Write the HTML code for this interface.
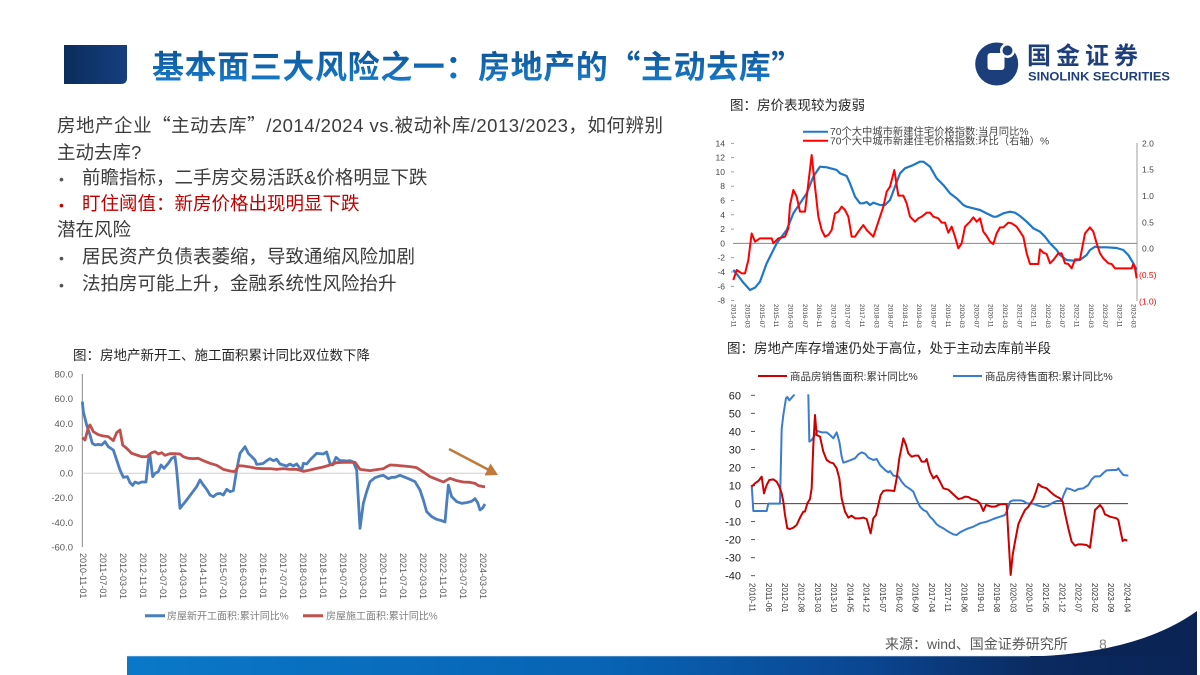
<!DOCTYPE html>
<html><head><meta charset="utf-8">
<style>
html,body{margin:0;padding:0;background:#fff;}
body{width:1200px;height:675px;overflow:hidden;position:relative;}
svg{position:absolute;left:0;top:0;}
</style></head>
<body>
<svg width="1200" height="675" viewBox="0 0 1200 675" xmlns="http://www.w3.org/2000/svg" font-family="'Liberation Sans','Noto Sans CJK SC',sans-serif">
<defs>
<linearGradient id="tg" x1="0" y1="0" x2="0" y2="1">
<stop offset="0" stop-color="#0a4a8c"/><stop offset="1" stop-color="#1a82d2"/>
</linearGradient>
<linearGradient id="sq" x1="0" y1="0" x2="1" y2="0">
<stop offset="0" stop-color="#0b2d5e"/><stop offset="1" stop-color="#163f7f"/>
</linearGradient>
<linearGradient id="bar" x1="0" y1="0" x2="1" y2="0">
<stop offset="0" stop-color="#0a78c8"/><stop offset="0.45" stop-color="#0863b4"/><stop offset="0.7" stop-color="#0a4590"/><stop offset="0.85" stop-color="#0b2a60"/><stop offset="1" stop-color="#0a2456"/>
</linearGradient>
<clipPath id="brclip"><rect x="100" y="178" width="1300" height="600"/></clipPath>
</defs>

<!-- header -->
<path d="M64 45 H127 V78 Q127 84 121 84 H64 Z" fill="url(#sq)"/>
<text x="152" y="78" font-size="32" font-weight="bold" fill="url(#tg)" letter-spacing="0.6" font-family="'Noto Sans CJK SC',sans-serif">基本面三大风险之一：房地产的“主动去库”</text>

<!-- logo -->
<circle cx="996.7" cy="64" r="21.5" fill="#1c3f7c"/>
<rect x="987.5" y="53" width="17" height="17" rx="3" fill="#fff"/>
<circle cx="1007.5" cy="50.5" r="7.5" fill="#fff"/>
<circle cx="1007.5" cy="50.5" r="5" fill="#1c3f7c"/>
<text x="1027" y="64" font-size="24" font-weight="bold" fill="#1f3f7c" letter-spacing="5" font-family="'Noto Sans CJK SC',sans-serif">国金证券</text>
<text x="1028" y="80.5" font-size="11.5" font-weight="bold" fill="#1f3f7c" textLength="142" lengthAdjust="spacingAndGlyphs">SINOLINK SECURITIES</text>

<!-- body text -->
<g font-size="18.5" fill="#3c3c3c">
<text x="57" y="132" textLength="606" lengthAdjust="spacing">房地产企业<tspan font-family="'Noto Sans CJK SC',sans-serif">“</tspan>主动去库<tspan font-family="'Noto Sans CJK SC',sans-serif">”</tspan>/2014/2024 vs.被动补库/2013/2023，如何辨别</text>
<text x="57" y="159">主动去库?</text>
<text x="59" y="184" font-size="14" fill="#555">•</text>
<text x="82" y="184">前瞻指标，二手房交易活跃&amp;价格明显下跌</text>
<text x="59" y="210" font-size="14" fill="#c00000">•</text>
<text x="82" y="210" fill="#c00000">盯住阈值：新房价格出现明显下跌</text>
<text x="57" y="236">潜在风险</text>
<text x="59" y="263" font-size="14" fill="#555">•</text>
<text x="82" y="263">居民资产负债表萎缩，导致通缩风险加剧</text>
<text x="59" y="290" font-size="14" fill="#555">•</text>
<text x="82" y="290">法拍房可能上升，金融系统性风险抬升</text>
</g>

<!-- ===== Top-right chart ===== -->
<text x="730" y="110" font-size="13.5" fill="#262626">图：房价表现较为疲弱</text>
<line x1="803" y1="131.7" x2="828" y2="131.7" stroke="#1f77c8" stroke-width="2"/>
<text x="830" y="135" font-size="10.3" fill="#444">70个大中城市新建住宅价格指数:当月同比%</text>
<line x1="803" y1="140.7" x2="828" y2="140.7" stroke="#ff0000" stroke-width="2"/>
<text x="830" y="144.5" font-size="10.3" fill="#444">70个大中城市新建住宅价格指数:环比（右轴）%</text>
<g font-size="8.5" fill="#444" text-anchor="end">
<text x="725" y="146.3">14</text><text x="725" y="160.6">12</text><text x="725" y="174.9">10</text><text x="725" y="189.2">8</text><text x="725" y="203.5">6</text><text x="725" y="217.8">4</text><text x="725" y="232.1">2</text><text x="725" y="246.4">0</text><text x="725" y="260.7">-2</text><text x="725" y="275">-4</text><text x="725" y="289.3">-6</text><text x="725" y="303.6">-8</text>
</g>
<g stroke="#888" stroke-width="0.8">
<line x1="731" y1="143.3" x2="734" y2="143.3"/><line x1="731" y1="157.6" x2="734" y2="157.6"/><line x1="731" y1="171.9" x2="734" y2="171.9"/><line x1="731" y1="186.2" x2="734" y2="186.2"/><line x1="731" y1="200.5" x2="734" y2="200.5"/><line x1="731" y1="214.8" x2="734" y2="214.8"/><line x1="731" y1="229.1" x2="734" y2="229.1"/><line x1="731" y1="257.7" x2="734" y2="257.7"/><line x1="731" y1="272" x2="734" y2="272"/><line x1="731" y1="286.3" x2="734" y2="286.3"/><line x1="731" y1="300.6" x2="734" y2="300.6"/>
</g>
<line x1="733" y1="243.3" x2="1137" y2="243.3" stroke="#777" stroke-width="0.8"/>
<line x1="1137" y1="143" x2="1137" y2="301" stroke="#888" stroke-width="0.8"/>
<g font-size="8.5" fill="#444">
<text x="1142" y="146.3">2.0</text><text x="1142" y="172.7">1.5</text><text x="1142" y="199">1.0</text><text x="1142" y="225.3">0.5</text><text x="1142" y="251.7">0.0</text>
<text x="1139" y="278" fill="#ff0000">(0.5)</text><text x="1139" y="304.3" fill="#ff0000">(1.0)</text>
</g>
<g font-size="6.5" fill="#444" dominant-baseline="middle">
<text transform="translate(733,304) rotate(90)">2014-11</text>
<text transform="translate(747.3,304) rotate(90)">2015-03</text>
<text transform="translate(761.6,304) rotate(90)">2015-07</text>
<text transform="translate(775.9,304) rotate(90)">2015-11</text>
<text transform="translate(790.2,304) rotate(90)">2016-03</text>
<text transform="translate(804.5,304) rotate(90)">2016-07</text>
<text transform="translate(818.8,304) rotate(90)">2016-11</text>
<text transform="translate(833.1,304) rotate(90)">2017-03</text>
<text transform="translate(847.4,304) rotate(90)">2017-07</text>
<text transform="translate(861.7,304) rotate(90)">2017-11</text>
<text transform="translate(876,304) rotate(90)">2018-03</text>
<text transform="translate(890.3,304) rotate(90)">2018-07</text>
<text transform="translate(904.6,304) rotate(90)">2018-11</text>
<text transform="translate(918.9,304) rotate(90)">2019-03</text>
<text transform="translate(933.2,304) rotate(90)">2019-07</text>
<text transform="translate(947.5,304) rotate(90)">2019-11</text>
<text transform="translate(961.8,304) rotate(90)">2020-03</text>
<text transform="translate(976.1,304) rotate(90)">2020-07</text>
<text transform="translate(990.4,304) rotate(90)">2020-11</text>
<text transform="translate(1004.7,304) rotate(90)">2021-03</text>
<text transform="translate(1019,304) rotate(90)">2021-07</text>
<text transform="translate(1033.3,304) rotate(90)">2021-11</text>
<text transform="translate(1047.6,304) rotate(90)">2022-03</text>
<text transform="translate(1061.9,304) rotate(90)">2022-07</text>
<text transform="translate(1076.2,304) rotate(90)">2022-11</text>
<text transform="translate(1090.5,304) rotate(90)">2023-03</text>
<text transform="translate(1104.8,304) rotate(90)">2023-07</text>
<text transform="translate(1119.1,304) rotate(90)">2023-11</text>
<text transform="translate(1133.4,304) rotate(90)">2024-03</text>
</g>
<g transform="translate(700,90) scale(0.33333)" fill="none" stroke-linejoin="round">
<polyline vector-effect="non-scaling-stroke" stroke="#1f77c8" stroke-width="2.2" points="100,540 115,558 130,578 150,600 165,593 180,575 200,520 230,460 260,420 280,370 300,340 320,310 340,260 360,230 380,232 410,240 420,250 440,258 450,280 465,320 480,340 490,340 500,336 510,345 520,338 540,345 555,345 570,330 585,290 600,250 615,235 640,225 660,215 670,215 690,230 710,265 730,285 750,310 770,325 790,345 800,350 820,355 840,360 860,370 880,380 890,380 910,370 930,365 945,368 960,378 980,395 1000,415 1020,425 1035,440 1050,460 1070,480 1080,495 1100,510 1120,512 1140,510 1160,495 1170,480 1185,470 1200,472 1220,472 1250,474 1270,480 1285,495 1300,520 1310,540"/>
<polyline vector-effect="non-scaling-stroke" stroke="#ff0000" stroke-width="2" points="100,570 110,540 125,550 135,550 145,510 155,430 165,455 180,445 200,445 215,445 220,460 235,445 255,440 265,415 270,345 280,300 290,320 300,365 315,365 325,280 335,195 345,290 355,380 365,420 375,440 385,435 395,420 405,370 415,365 425,350 435,360 445,380 455,440 465,440 475,425 490,405 500,420 510,430 520,440 530,410 540,380 550,350 560,305 570,290 583,240 595,317 610,317 620,340 630,380 645,395 655,385 665,380 680,368 690,368 700,380 715,385 725,398 735,398 745,428 755,410 765,440 775,475 785,460 795,410 810,395 820,382 830,395 840,385 850,425 860,438 870,455 880,462 890,430 900,412 910,412 925,398 935,400 950,410 960,425 970,440 980,490 990,522 1000,522 1015,522 1020,478 1030,488 1040,492 1050,520 1060,510 1075,490 1085,490 1095,520 1105,522 1115,535 1125,508 1140,508 1155,430 1170,412 1180,425 1190,460 1200,490 1210,505 1225,520 1235,522 1245,535 1260,535 1280,535 1295,535 1300,522 1305,535 1310,565"/>
</g>

<!-- ===== Left chart ===== -->
<text x="73" y="360" font-size="13.5" fill="#262626">图：房地产新开工、施工面积累计同比双位数下降</text>
<g font-size="9.5" fill="#595959" text-anchor="end">
<text x="73" y="377.5">80.0</text><text x="73" y="402.2">60.0</text><text x="73" y="426.9">40.0</text><text x="73" y="451.6">20.0</text><text x="73" y="476.5">0.0</text><text x="73" y="501.2">-20.0</text><text x="73" y="525.9">-40.0</text><text x="73" y="550.6">-60.0</text>
</g>
<line x1="82.3" y1="374" x2="82.3" y2="547" stroke="#888" stroke-width="1"/>
<line x1="82.3" y1="473.3" x2="487" y2="473.3" stroke="#d0d0d0" stroke-width="1"/>
<g font-size="9" fill="#595959" dominant-baseline="middle">
<text transform="translate(82.3,553) rotate(90)">2010-11-01</text>
<text transform="translate(102.3,553) rotate(90)">2011-07-01</text>
<text transform="translate(122.3,553) rotate(90)">2012-03-01</text>
<text transform="translate(142.3,553) rotate(90)">2012-11-01</text>
<text transform="translate(162.3,553) rotate(90)">2013-07-01</text>
<text transform="translate(182.3,553) rotate(90)">2014-03-01</text>
<text transform="translate(202.3,553) rotate(90)">2014-11-01</text>
<text transform="translate(222.3,553) rotate(90)">2015-07-01</text>
<text transform="translate(242.3,553) rotate(90)">2016-03-01</text>
<text transform="translate(262.3,553) rotate(90)">2016-11-01</text>
<text transform="translate(282.3,553) rotate(90)">2017-07-01</text>
<text transform="translate(302.3,553) rotate(90)">2018-03-01</text>
<text transform="translate(322.3,553) rotate(90)">2018-11-01</text>
<text transform="translate(342.3,553) rotate(90)">2019-07-01</text>
<text transform="translate(362.3,553) rotate(90)">2020-03-01</text>
<text transform="translate(382.3,553) rotate(90)">2020-11-01</text>
<text transform="translate(402.3,553) rotate(90)">2021-07-01</text>
<text transform="translate(422.3,553) rotate(90)">2022-03-01</text>
<text transform="translate(442.3,553) rotate(90)">2022-11-01</text>
<text transform="translate(462.3,553) rotate(90)">2023-07-01</text>
<text transform="translate(482.3,553) rotate(90)">2024-03-01</text>
</g>
<g transform="translate(50,340) scale(0.33333)" fill="none" stroke-linejoin="round">
<polyline vector-effect="non-scaling-stroke" stroke="#4a7ebf" stroke-width="2.8" points="97,185 100,215 110,255 120,285 127,310 135,315 145,313 155,315 165,305 175,320 190,330 200,360 210,390 220,412 232,410 240,428 248,436 255,426 265,430 275,426 288,426 295,360 300,346 308,410 315,400 325,395 333,375 342,385 355,370 365,355 375,350 380,390 390,505 398,495 410,480 425,460 440,440 450,420 460,435 470,448 480,465 490,470 500,462 510,460 520,465 530,448 540,455 550,452 560,390 570,340 585,320 595,340 605,350 615,360 620,373 630,372 640,370 650,362 660,356 670,362 680,358 690,372 700,375 710,378 720,372 730,378 740,372 750,385 755,392 760,370 770,372 780,360 790,350 800,340 820,342 830,336 840,370 848,375 858,352 870,362 880,362 890,363 900,362 910,366 920,390 930,565 940,490 950,455 960,425 975,413 990,408 1000,406 1015,416 1025,412 1035,412 1050,406 1065,412 1080,418 1095,425 1110,450 1120,480 1130,515 1145,530 1160,538 1175,542 1185,546 1195,435 1205,470 1220,485 1235,490 1250,488 1265,484 1275,476 1283,488 1290,510 1298,504 1305,492"/>
<polyline vector-effect="non-scaling-stroke" stroke="#c0504d" stroke-width="2.8" points="97,293 105,300 115,262 120,255 130,275 145,284 160,288 175,290 190,302 200,278 210,270 218,315 230,325 245,340 260,345 275,350 290,350 305,338 315,335 325,342 335,338 345,346 360,341 375,341 390,342 400,350 415,355 430,356 445,355 460,362 480,370 500,376 520,388 540,393 555,395 565,377 580,378 600,381 620,385 640,386 660,386 680,388 700,386 720,388 740,388 760,394 780,390 800,385 820,381 840,375 860,368 880,367 900,367 915,367 930,388 945,390 960,392 980,389 1000,386 1010,380 1020,375 1040,376 1060,378 1080,380 1100,383 1120,396 1140,410 1160,418 1180,426 1200,415 1220,422 1240,426 1260,427 1275,430 1285,437 1300,440 1305,440"/>
</g>
<line x1="449" y1="449" x2="488" y2="469.5" stroke="#c07a3c" stroke-width="2.5"/>
<polygon points="498,475 484.5,475.5 490.5,463.5" fill="#c07a3c"/>
<line x1="145" y1="615.7" x2="165" y2="615.7" stroke="#4a7ebf" stroke-width="3"/>
<text x="167" y="619.5" font-size="10" fill="#7f7f7f">房屋新开工面积:累计同比%</text>
<line x1="303" y1="615.7" x2="323" y2="615.7" stroke="#c0504d" stroke-width="3"/>
<text x="326" y="619.5" font-size="10" fill="#7f7f7f">房屋施工面积:累计同比%</text>

<!-- ===== Bottom-right chart ===== -->
<text x="727" y="353" font-size="13.5" fill="#262626">图：房地产库存增速仍处于高位，处于主动去库前半段</text>
<line x1="758" y1="376" x2="787" y2="376" stroke="#cc0000" stroke-width="2"/>
<text x="790" y="380" font-size="10.5" fill="#333">商品房销售面积:累计同比%</text>
<line x1="953" y1="376" x2="982" y2="376" stroke="#3a7dd0" stroke-width="2"/>
<text x="985" y="380" font-size="10.5" fill="#333">商品房待售面积:累计同比%</text>
<g font-size="11" fill="#222" text-anchor="end">
<text x="741" y="399.3">60</text><text x="741" y="417.3">50</text><text x="741" y="435.4">40</text><text x="741" y="453.4">30</text><text x="741" y="471.5">20</text><text x="741" y="489.5">10</text><text x="741" y="507.6">0</text><text x="741" y="525.6">-10</text><text x="741" y="543.6">-20</text><text x="741" y="561.7">-30</text><text x="741" y="579.7">-40</text>
</g>
<g stroke="#444" stroke-width="0.9">
<line x1="751" y1="395.3" x2="755" y2="395.3"/><line x1="751" y1="413.3" x2="755" y2="413.3"/><line x1="751" y1="431.4" x2="755" y2="431.4"/><line x1="751" y1="449.4" x2="755" y2="449.4"/><line x1="751" y1="467.5" x2="755" y2="467.5"/><line x1="751" y1="485.5" x2="755" y2="485.5"/><line x1="751" y1="521.6" x2="755" y2="521.6"/><line x1="751" y1="539.6" x2="755" y2="539.6"/><line x1="751" y1="557.7" x2="755" y2="557.7"/><line x1="751" y1="575.7" x2="755" y2="575.7"/>
</g>
<line x1="753" y1="503.7" x2="1128" y2="503.7" stroke="#222" stroke-width="0.9"/>
<g font-size="8" fill="#333" dominant-baseline="middle">
<text transform="translate(751.7,583) rotate(90)">2010-11</text>
<text transform="translate(768,583) rotate(90)">2011-06</text>
<text transform="translate(784.3,583) rotate(90)">2012-01</text>
<text transform="translate(800.6,583) rotate(90)">2012-08</text>
<text transform="translate(816.9,583) rotate(90)">2013-03</text>
<text transform="translate(833.2,583) rotate(90)">2013-10</text>
<text transform="translate(849.5,583) rotate(90)">2014-05</text>
<text transform="translate(865.8,583) rotate(90)">2014-12</text>
<text transform="translate(882.1,583) rotate(90)">2015-07</text>
<text transform="translate(898.4,583) rotate(90)">2016-02</text>
<text transform="translate(914.7,583) rotate(90)">2016-09</text>
<text transform="translate(931,583) rotate(90)">2017-04</text>
<text transform="translate(947.3,583) rotate(90)">2017-11</text>
<text transform="translate(963.6,583) rotate(90)">2018-06</text>
<text transform="translate(979.9,583) rotate(90)">2019-01</text>
<text transform="translate(996.2,583) rotate(90)">2019-08</text>
<text transform="translate(1012.5,583) rotate(90)">2020-03</text>
<text transform="translate(1028.8,583) rotate(90)">2020-10</text>
<text transform="translate(1045.1,583) rotate(90)">2021-05</text>
<text transform="translate(1061.4,583) rotate(90)">2021-12</text>
<text transform="translate(1077.7,583) rotate(90)">2022-07</text>
<text transform="translate(1094,583) rotate(90)">2023-02</text>
<text transform="translate(1110.3,583) rotate(90)">2023-09</text>
<text transform="translate(1126.6,583) rotate(90)">2024-04</text>
</g>
<g transform="translate(700,335) scale(0.33333)" fill="none" stroke-linejoin="round">
<g clip-path="url(#brclip)">
<polyline vector-effect="non-scaling-stroke" stroke="#3a7dd0" stroke-width="2" points="155,450 160,528 170,528 200,528 205,506 215,506 240,506 245,282 250,240 258,190 262,186 268,196 275,188 282,180 290,120 318,120 325,180 328,320 335,315 345,300 352,288 365,292 380,292 390,300 400,310 410,292 418,320 425,365 430,383 445,378 455,374 465,370 475,358 485,352 495,356 505,368 520,375 530,372 540,390 555,405 565,412 570,408 580,422 595,424 605,440 615,452 630,462 640,470 648,490 660,515 670,525 680,530 690,545 700,555 710,568 720,575 730,580 745,590 760,598 770,600 780,592 800,582 820,575 840,565 860,560 880,552 900,545 915,540 922,525 930,500 940,496 960,496 970,498 980,505 1000,506 1015,512 1030,516 1045,512 1055,505 1070,498 1085,498 1090,482 1100,460 1110,462 1125,468 1135,462 1150,460 1165,450 1175,433 1185,424 1200,424 1210,414 1220,406 1240,405 1250,405 1255,400 1262,410 1270,420 1285,422"/>
</g>
<polyline vector-effect="non-scaling-stroke" stroke="#cc0000" stroke-width="2" points="155,455 165,445 175,438 185,425 192,475 200,450 208,435 220,433 230,440 238,455 245,475 250,500 255,540 262,580 270,582 280,578 290,570 300,548 310,530 315,530 322,505 330,492 335,460 340,330 345,240 350,300 360,305 370,350 380,375 390,382 400,385 410,400 418,430 425,490 435,530 445,548 455,542 465,550 480,550 490,548 500,552 505,570 512,595 520,550 528,540 535,510 542,480 550,468 560,466 575,467 583,468 590,430 598,370 610,310 618,330 625,355 635,365 645,362 655,362 665,380 675,380 680,372 690,410 700,430 710,422 720,440 730,460 745,464 760,478 775,492 785,490 795,485 805,486 815,492 830,496 840,505 850,528 858,510 868,513 875,515 885,515 900,508 915,507 920,508 925,600 932,720 938,660 945,620 955,568 965,545 975,525 985,515 1000,492 1008,470 1015,447 1025,455 1040,460 1055,474 1065,482 1080,490 1088,500 1095,535 1105,580 1115,620 1125,632 1135,628 1145,628 1160,630 1170,638 1175,600 1185,525 1195,515 1200,510 1208,520 1215,538 1230,545 1250,550 1255,555 1262,590 1268,618 1275,614 1282,617"/>
</g>

<!-- footer -->
<path d="M1035 656.5 Q1140 652 1197 611 L1197 675 L1035 675 Z" fill="#0a2456"/>
<rect x="127" y="656" width="1070" height="19" fill="url(#bar)"/>
<line x1="127" y1="656" x2="1030" y2="656" stroke="#cfe3f3" stroke-width="1" opacity="0.6"/>
<text x="885" y="649" font-size="14" fill="#595959">来源：wind、国金证券研究所</text>
<text x="1099" y="649" font-size="14" fill="#808080">8</text>
</svg>
</body></html>
